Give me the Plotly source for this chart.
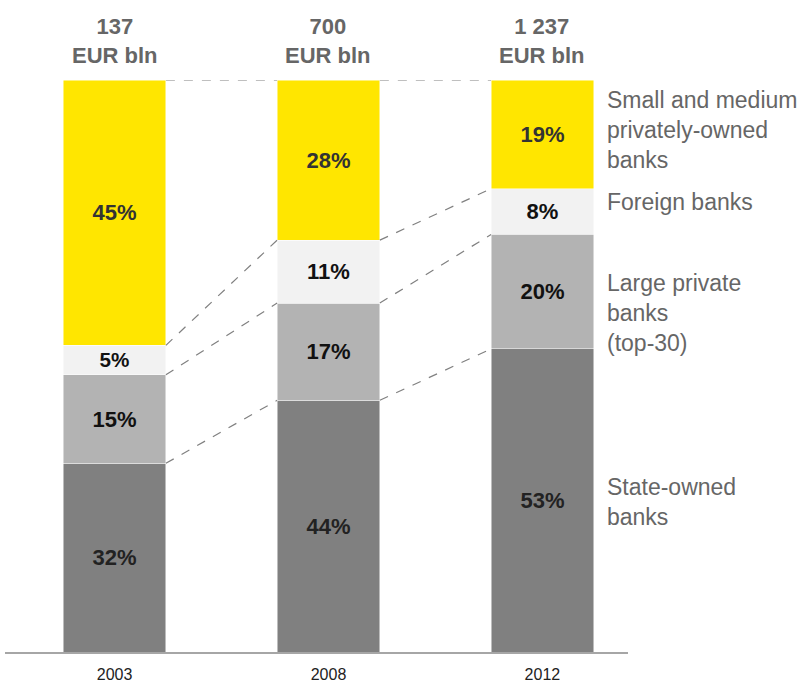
"""Banking sector structure by ownership - 100% stacked bars with dashed connectors."""

import plotly.graph_objects as go

years = ["2003", "2008", "2012"]
totals = ["137", "700", "1 237"]
segments = [
    "State-owned<br>banks",
    "Large private<br>banks<br>(top-30)",
    "Foreign banks",
    "Small and medium<br>privately-owned<br>banks",
]
state_owned = [32, 44, 53]
large_private = [15, 17, 20]
foreign = [5, 11, 8]
small_medium = [45, 28, 19]

COLORS = ["#808080", "#b3b3b3", "#f2f2f2", "#ffe600"]
TEXT_COLORS = ["#222222", "#111111", "#111111", "#333333"]
LABEL_GRAY = "#666666"
FONT = "Liberation Sans, Arial, sans-serif"
BAR_WIDTH = 0.48

series = [state_owned, large_private, foreign, small_medium]
x_pos = list(range(len(years)))

fig = go.Figure()

for values, color, tcolor, name in zip(series, COLORS, TEXT_COLORS, segments):
    fig.add_trace(
        go.Bar(
            x=x_pos,
            y=values,
            name=name,
            width=BAR_WIDTH,
            marker=dict(color=color, line=dict(color="rgba(255,255,255,0.6)", width=0.8)),
            text=[f"{v}%" for v in values],
            textposition="inside",
            insidetextanchor="middle",
            textangle=0,
            textfont=dict(family=FONT, size=22, color=tcolor, weight="bold"),
            hoverinfo="skip",
            showlegend=False,
        )
    )

# cumulative shares (normalised the same way barnorm does) for connectors
col_sums = [sum(s[i] for s in series) for i in x_pos]
cum = []
for i in x_pos:
    acc = 0.0
    levels = []
    for s in series:
        acc += s[i] / col_sums[i] * 100
        levels.append(acc)
    cum.append(levels)

half = BAR_WIDTH / 2
for i in x_pos[:-1]:
    for k in range(len(series)):
        fig.add_shape(
            type="line",
            x0=i + half,
            x1=i + 1 - half,
            y0=cum[i][k],
            y1=cum[i + 1][k],
            xref="x",
            yref="y",
            line=dict(color="#808080", width=1.2, dash="dash"),
        )

# totals above bars
for i, t in zip(x_pos, totals):
    fig.add_annotation(
        x=i,
        y=100,
        xref="x",
        yref="y",
        text=f"{t}<br>EUR bln",
        showarrow=False,
        yanchor="bottom",
        yshift=10,
        font=dict(family=FONT, size=22, color=LABEL_GRAY, weight="bold"),
        align="center",
    )

# right-hand segment labels, aligned to last bar
last = x_pos[-1]
label_offsets = [-2, -21, 10, 4]
prev = 0.0
for k, name in enumerate(segments):
    mid = (prev + cum[last][k]) / 2
    prev = cum[last][k]
    fig.add_annotation(
        x=last + half,
        y=mid,
        xref="x",
        yref="y",
        text=name,
        showarrow=False,
        xanchor="left",
        xshift=11,
        yshift=label_offsets[k],
        align="left",
        font=dict(family=FONT, size=23, color=LABEL_GRAY),
    )

fig.update_layout(
    barmode="stack",
    barnorm="percent",
    width=809,
    height=687,
    margin=dict(l=5, r=181, t=80, b=35),
    plot_bgcolor="white",
    paper_bgcolor="white",
    showlegend=False,
)
fig.update_xaxes(
    range=[-0.512, 2.40],
    tickmode="array",
    tickvals=x_pos,
    ticktext=years,
    ticks="outside",
    ticklen=7,
    tickcolor="rgba(0,0,0,0)",
    tickfont=dict(family=FONT, size=16, color="#222222"),
    showline=True,
    linecolor="#a6a6a6",
    linewidth=2,
    showgrid=False,
    zeroline=False,
    automargin=False,
)
fig.update_yaxes(range=[0, 100], visible=False, showgrid=False, automargin=False)

fig.write_html(
    "out.html",
    config={"displayModeBar": False},
    post_script="document.body.style.margin='0';",
)
